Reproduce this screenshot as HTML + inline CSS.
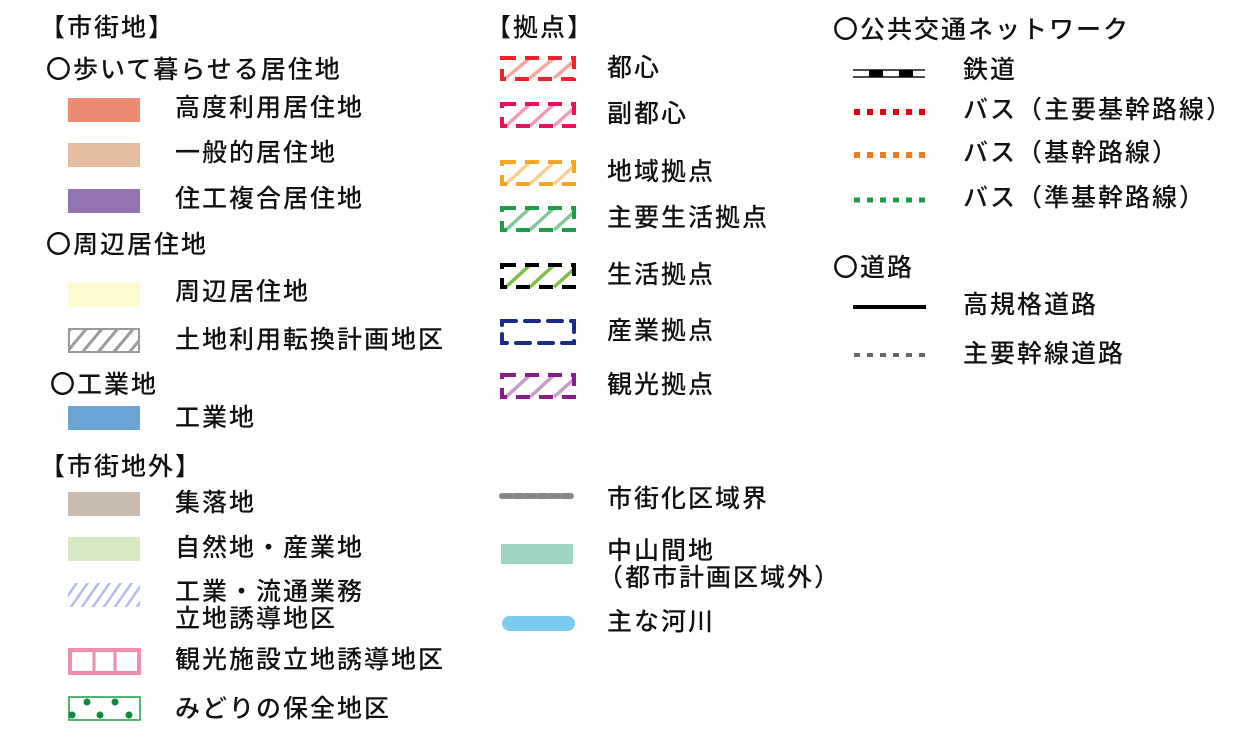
<!DOCTYPE html>
<html><head><meta charset="utf-8"><style>
html,body{margin:0;padding:0;background:#fff;}
svg{display:block;}
text{font-family:"Liberation Sans","Noto Sans CJK JP",sans-serif;font-size:25px;font-weight:500;fill:#111;dominant-baseline:central;letter-spacing:2px;}
</style></head><body>
<svg width="1240" height="742" viewBox="0 0 1240 742" xmlns="http://www.w3.org/2000/svg">
<defs>
<pattern id="gh" width="12" height="12" patternUnits="userSpaceOnUse" patternTransform="rotate(40)"><rect width="12" height="12" fill="#fff"/><rect width="3" height="12" fill="#9a9a9a"/></pattern>
<pattern id="bh" width="9" height="9" patternUnits="userSpaceOnUse" patternTransform="rotate(35)"><rect width="9" height="9" fill="#fff"/><rect width="2.5" height="9" fill="#b4bde0"/></pattern>
</defs>
<!-- column 1 -->
<text x="40" y="28">【市街地】</text>
<text x="46" y="70">〇歩いて暮らせる居住地</text>
<rect x="68" y="98" width="72" height="24" fill="#ef8a72"/>
<text x="175" y="108">高度利用居住地</text>
<rect x="68" y="143" width="72" height="24" fill="#e5bda1"/>
<text x="175" y="153">一般的居住地</text>
<rect x="68" y="189" width="72" height="24" fill="#9473b3"/>
<text x="175" y="199">住工複合居住地</text>
<text x="46" y="245">〇周辺居住地</text>
<rect x="68" y="283" width="72" height="24" fill="#fdfbd2"/>
<text x="175" y="292">周辺居住地</text>
<rect x="69" y="329" width="70" height="23" fill="url(#gh)" stroke="#9a9a9a" stroke-width="2"/>
<text x="175" y="340">土地利用転換計画地区</text>
<text x="50" y="385">〇工業地</text>
<rect x="68" y="406" width="72" height="24" fill="#6aa3d6"/>
<text x="175" y="418">工業地</text>
<text x="40" y="467">【市街地外】</text>
<rect x="68" y="492" width="72" height="24" fill="#c8bbae"/>
<text x="175" y="503">集落地</text>
<rect x="68" y="537" width="72" height="24" fill="#d5eac0"/>
<text x="175" y="548">自然地・産業地</text>
<rect x="68" y="583" width="72" height="24" fill="url(#bh)"/>
<text x="175" y="592">工業・流通業務</text>
<text x="175" y="619">立地誘導地区</text>
<rect x="70" y="650" width="69" height="23" fill="#fff" stroke="#ee8fb2" stroke-width="4"/>
<line x1="94" y1="650" x2="94" y2="673" stroke="#ee8fb2" stroke-width="3"/>
<line x1="115" y1="650" x2="115" y2="673" stroke="#ee8fb2" stroke-width="3"/>
<text x="175" y="660">観光施設立地誘導地区</text>
<rect x="69" y="697" width="71" height="23" fill="#fff" stroke="#1a9a45" stroke-width="1.5"/>
<g fill="#118a3c"><circle cx="87" cy="702" r="3.5"/><circle cx="115" cy="702" r="3.5"/><circle cx="72" cy="715" r="3.5"/><circle cx="100" cy="715" r="3.5"/><circle cx="129" cy="715" r="3.5"/></g>
<text x="175" y="709">みどりの保全地区</text>
<!-- column 2 -->
<text x="486" y="28">【拠点】</text>
<g stroke-width="3.5">
<g stroke="#f4a8a0"><line x1="506" y1="78" x2="530" y2="58"/><line x1="530" y1="78" x2="554" y2="58"/><line x1="554" y1="78" x2="574" y2="61"/></g>
<rect x="502" y="58" width="72" height="21" fill="none" stroke="#e8262a" stroke-width="4" stroke-dasharray="14 9"/>
<g stroke="#f19ab8"><line x1="506" y1="126" x2="530" y2="104"/><line x1="530" y1="126" x2="554" y2="104"/><line x1="554" y1="126" x2="574" y2="108"/></g>
<rect x="502" y="104" width="72" height="22" fill="none" stroke="#e4135a" stroke-width="4" stroke-dasharray="14 9"/>
<g stroke="#f9cf8f"><line x1="506" y1="184" x2="530" y2="162"/><line x1="530" y1="184" x2="554" y2="162"/><line x1="554" y1="184" x2="574" y2="166"/></g>
<rect x="502" y="162" width="72" height="22" fill="none" stroke="#f5a623" stroke-width="4" stroke-dasharray="14 9"/>
<g stroke="#88c49a"><line x1="506" y1="230" x2="530" y2="208"/><line x1="530" y1="230" x2="554" y2="208"/><line x1="554" y1="230" x2="574" y2="212"/></g>
<rect x="502" y="208" width="72" height="22" fill="none" stroke="#1e9e4a" stroke-width="4" stroke-dasharray="14 9"/>
<g stroke="#7ac143"><line x1="506" y1="287" x2="530" y2="265"/><line x1="530" y1="287" x2="554" y2="265"/><line x1="554" y1="287" x2="574" y2="269"/></g>
<rect x="502" y="265" width="72" height="22" fill="none" stroke="#000" stroke-width="4" stroke-dasharray="14 9"/>
<rect x="502" y="321" width="72" height="22" fill="none" stroke="#1b2b8a" stroke-width="4" stroke-dasharray="14 9" stroke-linecap="round"/>
<g stroke="#c79bcb"><line x1="506" y1="397" x2="530" y2="375"/><line x1="530" y1="397" x2="554" y2="375"/><line x1="554" y1="397" x2="574" y2="379"/></g>
<rect x="502" y="375" width="72" height="22" fill="none" stroke="#8b1a8b" stroke-width="4" stroke-dasharray="14 9"/>
</g>
<text x="607" y="68">都心</text>
<text x="607" y="114">副都心</text>
<text x="607" y="172">地域拠点</text>
<text x="607" y="218">主要生活拠点</text>
<text x="607" y="275">生活拠点</text>
<text x="607" y="331">産業拠点</text>
<text x="607" y="385">観光拠点</text>
<line x1="502" y1="496" x2="574" y2="496" stroke="#888" stroke-width="6" stroke-dasharray="9 3" stroke-linecap="round"/>
<text x="607" y="499">市街化区域界</text>
<rect x="501" y="544" width="72" height="20" fill="#9dd5c0"/>
<text x="607" y="551">中山間地</text>
<text x="598" y="578">（都市計画区域外）</text>
<rect x="502" y="616" width="73" height="15" rx="7.5" fill="#7ccaf0"/>
<text x="607" y="622">主な河川</text>
<!-- column 3 -->
<text x="833" y="30">〇公共交通ネットワーク</text>
<line x1="853" y1="70" x2="925" y2="70" stroke="#111" stroke-width="1.5"/>
<line x1="853" y1="77" x2="925" y2="77" stroke="#111" stroke-width="1.5"/>
<rect x="869" y="70" width="14" height="7" fill="#000"/><rect x="899" y="70" width="14" height="7" fill="#000"/>
<text x="963" y="70">鉄道</text>
<line x1="854" y1="112" x2="926" y2="112" stroke="#e60012" stroke-width="6" stroke-dasharray="6 7"/>
<text x="963" y="110">バス（主要基幹路線）</text>
<line x1="854" y1="155" x2="926" y2="155" stroke="#ee7b1f" stroke-width="6" stroke-dasharray="6 7"/>
<text x="963" y="153">バス（基幹路線）</text>
<line x1="854" y1="200" x2="926" y2="200" stroke="#19a04a" stroke-width="5" stroke-dasharray="6 7"/>
<text x="963" y="198">バス（準基幹路線）</text>
<text x="833" y="268">〇道路</text>
<line x1="853" y1="307" x2="926" y2="307" stroke="#000" stroke-width="4"/>
<text x="963" y="305">高規格道路</text>
<line x1="854" y1="355" x2="926" y2="355" stroke="#666" stroke-width="4" stroke-dasharray="6 7"/>
<text x="963" y="354">主要幹線道路</text>
</svg>
</body></html>
